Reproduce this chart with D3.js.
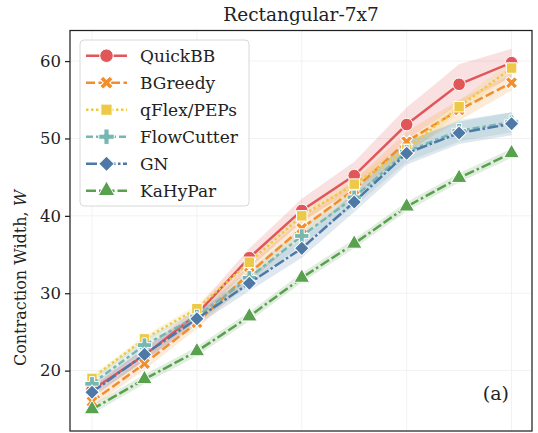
<!DOCTYPE html>
<html>
<head>
<meta charset="utf-8">
<script src="https://cdn.jsdelivr.net/npm/d3@7"></script>
<style>
  html, body { margin: 0; padding: 0; background: #fff; }
  svg { display: block; }
  svg text { font-family: "DejaVu Serif", "Liberation Serif", serif; }
</style>
</head>
<body>
<div id="chart"></div>
<script>
// x positions (problem size index) and series values
const steps = [1, 2, 3, 4, 5, 6, 7, 8, 9]
const methods = ["QuickBB", "BGreedy", "qFlex/PEPs", "FlowCutter", "GN", "KaHyPar"]

const quickbb = [17.5, 22.0, 27.3, 34.6, 40.7, 45.2, 51.8, 57.0, 59.8]
const quickbbLo = [16.8, 21.2, 26.5, 33.2, 39.2, 43.5, 49.8, 54.5, 57.9]
const quickbbHi = [18.3, 22.9, 28.1, 35.8, 42.2, 47.0, 54.0, 59.6, 61.6]

const bgreedy = [16.0, 20.9, 26.2, 32.6, 38.4, 43.4, 49.6, 53.7, 57.2]
const bgreedyLo = [15.3, 20.1, 25.4, 31.5, 37.3, 42.3, 48.3, 52.3, 56.2]
const bgreedyHi = [16.8, 21.7, 27.1, 33.7, 39.6, 44.6, 50.9, 55.0, 58.3]

const qflex = [19.0, 24.1, 28.0, 34.0, 40.0, 44.1, 48.6, 54.1, 59.1]
const qflexLo = [18.6, 23.6, 27.5, 33.4, 39.3, 43.4, 47.8, 53.3, 58.2]
const qflexHi = [19.4, 24.5, 28.5, 34.6, 40.7, 44.8, 49.4, 54.9, 60.0]

const flowcutter = [18.3, 23.3, 27.0, 32.0, 37.4, 42.4, 48.3, 51.0, 52.1]
const flowcutterLo = [17.6, 22.5, 26.2, 31.0, 36.3, 41.2, 47.0, 49.6, 50.8]
const flowcutterHi = [19.0, 24.1, 27.8, 33.0, 38.5, 43.6, 49.6, 52.4, 53.4]

const gn = [17.2, 22.1, 26.7, 31.3, 35.8, 41.8, 48.1, 50.7, 51.9]
const gnLo = [16.5, 21.3, 25.9, 30.3, 34.6, 40.5, 46.6, 49.3, 50.4]
const gnHi = [17.9, 22.9, 27.5, 32.3, 37.0, 43.1, 49.6, 52.2, 53.4]

const kahypar = [15.0, 18.9, 22.5, 27.0, 32.0, 36.4, 41.2, 44.9, 48.1]
const kahyparLo = [14.4, 18.3, 21.9, 26.4, 31.4, 35.8, 40.6, 44.3, 47.5]
const kahyparHi = [15.6, 19.5, 23.1, 27.6, 32.6, 37.0, 41.8, 45.5, 48.7]

const yTicks = [20, 30, 40, 50, 60]
const xGrid = [1, 3, 5, 7, 9]

const series = [
  { name: methods[0], mean: quickbb, lo: quickbbLo, hi: quickbbHi, color: "#e15759", dash: null, marker: "circle" },
  { name: methods[1], mean: bgreedy, lo: bgreedyLo, hi: bgreedyHi, color: "#f28e2b", dash: "9,3.5", marker: "x" },
  { name: methods[2], mean: qflex, lo: qflexLo, hi: qflexHi, color: "#edc948", dash: "2.5,2.5", marker: "square" },
  { name: methods[3], mean: flowcutter, lo: flowcutterLo, hi: flowcutterHi, color: "#76b7b2", dash: "7,3,3.5,3", marker: "plus" },
  { name: methods[4], mean: gn, lo: gnLo, hi: gnHi, color: "#4e79a7", dash: "11,2.5,2.5,2.5", marker: "diamond" },
  { name: methods[5], mean: kahypar, lo: kahyparLo, hi: kahyparHi, color: "#59a14f", dash: "10,3,2.5,3,10,3", marker: "triangle" }
]

const width = 538
const height = 433
const margin = { top: 30.5, right: 6, bottom: 2, left: 70 }

const svg = d3.select("#chart")
  .append("svg")
  .attr("width", width)
  .attr("height", height)

const x = d3.scaleLinear()
  .domain([0.58, 9.39])
  .range([margin.left, width - margin.right])

const y = d3.scaleLinear()
  .domain([12.2, 63.95])
  .range([height - margin.bottom, margin.top])

// grid
svg.append("g")
  .selectAll("line.h")
  .data(yTicks)
  .join("line")
  .attr("x1", x.range()[0]).attr("x2", x.range()[1])
  .attr("y1", d => y(d)).attr("y2", d => y(d))
  .attr("stroke", "#f2f2f2").attr("stroke-width", 1)

svg.append("g")
  .selectAll("line.v")
  .data(xGrid)
  .join("line")
  .attr("x1", d => x(d)).attr("x2", d => x(d))
  .attr("y1", y.range()[0]).attr("y2", y.range()[1])
  .attr("stroke", "#f2f2f2").attr("stroke-width", 1)

// confidence bands
const area = d3.area()
  .x((d, i) => x(steps[i]))
  .y0(d => y(d[0]))
  .y1(d => y(d[1]))

series.forEach(s => {
  svg.append("path")
    .datum(s.lo.map((v, i) => [v, s.hi[i]]))
    .attr("d", area)
    .attr("fill", s.color)
    .attr("fill-opacity", 0.18)
})

// lines
const line = d3.line()
  .x((d, i) => x(steps[i]))
  .y(d => y(d))

const symbolPath = (marker, size) => {
  const types = {
    circle: d3.symbolCircle,
    square: d3.symbolSquare,
    diamond: d3.symbolSquare,
    triangle: d3.symbolTriangle,
    plus: d3.symbolCross,
    x: d3.symbolCross
  }
  return d3.symbol().type(types[marker]).size(size)()
}
const markerSize = { circle: 125, square: 110, diamond: 105, triangle: 105, plus: 115, x: 95 }
const markerRot = m => (m === "x" || m === "diamond" ? 45 : 0)

series.forEach(s => {
  svg.append("path")
    .datum(s.mean)
    .attr("d", line)
    .attr("fill", "none")
    .attr("stroke", s.color)
    .attr("stroke-width", 2.5)
    .attr("stroke-dasharray", s.dash)

  svg.append("g")
    .selectAll("path")
    .data(s.mean)
    .join("path")
    .attr("d", symbolPath(s.marker, markerSize[s.marker]))
    .attr("transform", (d, i) => `translate(${x(steps[i])},${y(d)}) rotate(${markerRot(s.marker)})`)
    .attr("fill", s.color)
    .attr("stroke", "#fff")
    .attr("stroke-width", 1)
})

// frame
svg.append("rect")
  .attr("x", x.range()[0]).attr("y", y.range()[1])
  .attr("width", x.range()[1] - x.range()[0])
  .attr("height", y.range()[0] - y.range()[1])
  .attr("fill", "none")
  .attr("stroke", "#222")
  .attr("stroke-width", 1.25)

// y axis
const yAxis = svg.append("g")
  .attr("transform", `translate(${margin.left},0)`)
  .call(d3.axisLeft(y).tickValues(yTicks).tickSize(5).tickPadding(4))
yAxis.select(".domain").remove()
yAxis.selectAll("line").attr("stroke", "#222").attr("stroke-width", 1.25)
yAxis.selectAll("text")
  .attr("font-family", null)
  .attr("font-size", "16.5px")
  .attr("fill", "#222")

svg.append("text")
  .attr("transform", "translate(26,278) rotate(-90)")
  .attr("text-anchor", "middle")
  .attr("font-size", "16px")
  .attr("fill", "#222")
  .text("Contraction Width, ")
  .append("tspan")
  .attr("font-style", "italic")
  .text("W")

// title
svg.append("text")
  .attr("x", 301)
  .attr("y", 21)
  .attr("text-anchor", "middle")
  .attr("font-size", "18.5px")
  .attr("fill", "#222")
  .text("Rectangular-7x7")

// panel label
svg.append("text")
  .attr("x", 509)
  .attr("y", 400)
  .attr("text-anchor", "end")
  .attr("font-size", "19px")
  .attr("fill", "#222")
  .text("(a)")

// legend
const legend = svg.append("g")
legend.append("rect")
  .attr("x", 80).attr("y", 40)
  .attr("width", 169).attr("height", 166)
  .attr("rx", 4)
  .attr("fill", "#fff").attr("fill-opacity", 0.85)
  .attr("stroke", "#d8d8d8").attr("stroke-width", 1)

const legendY = d3.scalePoint()
  .domain(methods)
  .range([55.7, 190.7])

series.forEach(s => {
  const ly = legendY(s.name)
  legend.append("line")
    .attr("x1", 86).attr("x2", 127)
    .attr("y1", ly).attr("y2", ly)
    .attr("stroke", s.color)
    .attr("stroke-width", 2.5)
    .attr("stroke-dasharray", s.dash)
  legend.append("path")
    .attr("d", symbolPath(s.marker, markerSize[s.marker] * 1.15))
    .attr("transform", `translate(106.5,${ly}) rotate(${markerRot(s.marker)})`)
    .attr("fill", s.color)
    .attr("stroke", "#fff")
    .attr("stroke-width", 1)
  legend.append("text")
    .attr("x", 140)
    .attr("y", ly)
    .attr("dy", "0.35em")
    .attr("font-size", "17px")
    .attr("fill", "#222")
    .text(s.name)
})
</script>
</body>
</html>
